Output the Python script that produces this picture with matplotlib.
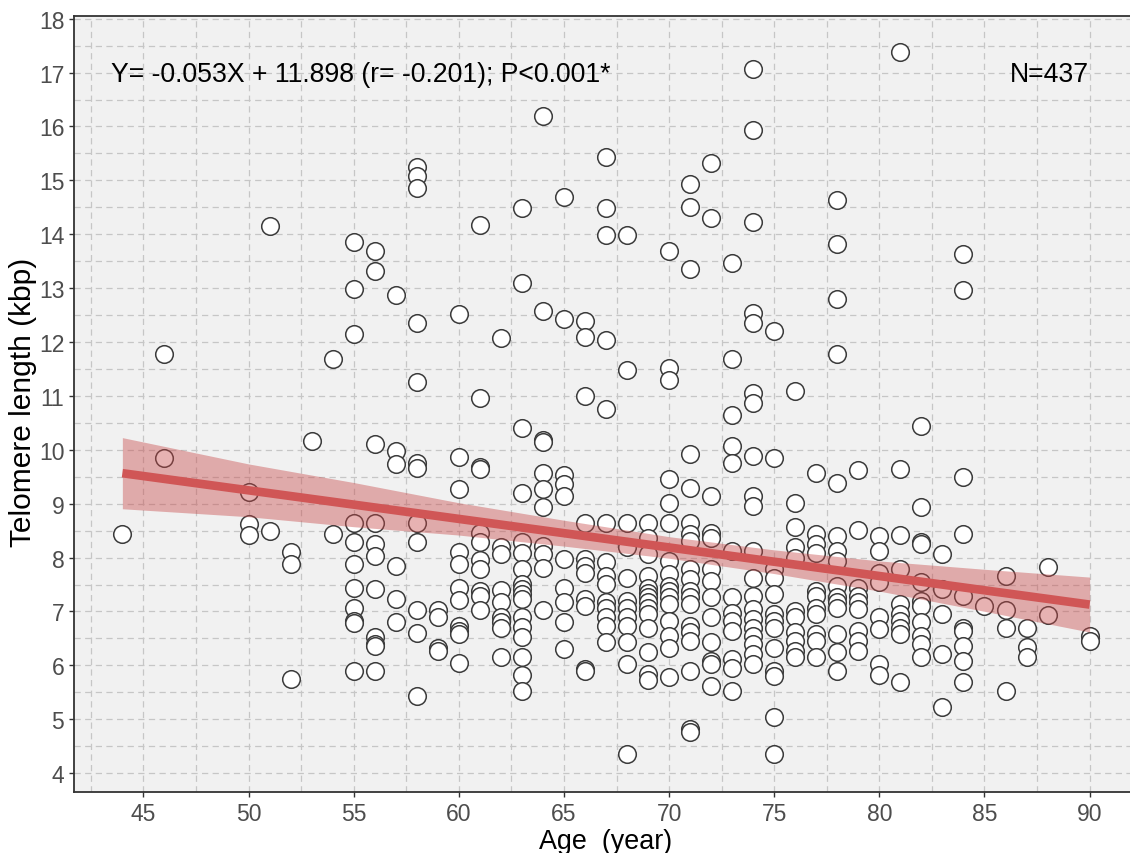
import numpy as np
import matplotlib
matplotlib.use("Agg")
import matplotlib.pyplot as plt
from matplotlib.ticker import MultipleLocator

plt.rcParams['font.family'] = ['Liberation Sans', 'DejaVu Sans']

# ---- data: telomere length (kbp) by age (year) ----
age44 = [8.43]
age46 = [11.77, 9.84]
age50 = [9.22, 8.62, 8.42]
age51 = [14.16, 8.50]
age52 = [8.10, 7.88, 5.75]
age53 = [10.16]
age54 = [11.68, 8.43]
age55 = [13.85, 12.99, 12.14, 8.65, 8.28, 7.89, 7.44, 7.07, 6.83, 6.78, 5.90]
age56 = [13.68, 13.31, 10.10, 8.65, 8.25, 8.03, 7.41, 6.53, 6.40, 6.36, 5.89]
age57 = [12.88, 9.98, 9.74, 7.85, 7.23, 6.81]
age58 = [15.25, 15.09, 14.86, 12.36, 11.25, 9.76, 9.67, 8.65, 8.28, 7.02, 6.60, 5.44]
age59 = [7.02, 6.90, 6.33, 6.27]
age60 = [12.52, 9.87, 9.28, 8.11, 7.89, 7.44, 7.22, 6.73, 6.64, 6.58, 6.04]
age61 = [14.18, 10.96, 9.69, 9.65, 8.46, 8.28, 7.95, 7.78, 7.38, 7.29, 7.02]
age62 = [12.08, 8.19, 8.06, 7.40, 7.17, 6.89, 6.80, 6.70, 6.16]
age63 = [14.49, 13.10, 10.41, 9.19, 8.28, 8.08, 7.78, 7.51, 7.41, 7.32, 7.23,
         6.89, 6.72, 6.52, 6.15, 5.83, 5.53]
age64 = [16.20, 12.57, 10.19, 10.15, 9.57, 9.28, 8.93, 8.22, 8.06, 7.81, 7.02]
age65 = [14.70, 12.42, 9.54, 9.36, 9.14, 7.98, 7.44, 7.17, 6.80, 6.30]
age66 = [12.39, 12.10, 10.99, 8.65, 7.97, 7.85, 7.72, 7.23, 7.11, 5.93, 5.90]
age67 = [15.44, 14.48, 13.98, 12.04, 10.75, 8.65, 7.91, 7.66, 7.51, 7.17, 7.07,
         6.89, 6.73, 6.44]
age68 = [13.98, 11.48, 8.65, 8.19, 7.63, 7.20, 7.07, 6.89, 6.73, 6.43, 6.02, 4.36]
age69 = [8.65, 8.37, 8.06, 7.66, 7.44, 7.35, 7.26, 7.17, 7.07, 6.95, 6.70, 6.24,
         5.84, 5.72]
age70 = [13.68, 11.51, 11.30, 9.45, 9.02, 8.65, 7.94, 7.69, 7.48, 7.38, 7.26,
         7.14, 6.83, 6.55, 6.33, 5.78]
age71 = [14.93, 14.51, 13.36, 9.93, 9.30, 8.65, 8.43, 8.31, 7.78, 7.60, 7.38,
         7.26, 7.14, 6.73, 6.61, 6.46, 5.90, 4.82, 4.76]
age72 = [15.32, 14.31, 9.14, 8.46, 8.37, 7.78, 7.57, 7.26, 6.89, 6.43, 6.09,
         6.02, 5.61]
age73 = [13.47, 11.68, 10.65, 10.07, 9.76, 8.12, 7.26, 6.98, 6.83, 6.64, 6.12,
         5.96, 5.53]
age74 = [17.07, 15.94, 14.23, 12.54, 12.35, 11.06, 10.87, 9.88, 9.14, 8.96,
         8.12, 7.63, 7.29, 7.04, 6.86, 6.70, 6.55, 6.40, 6.21, 6.02]
age75 = [12.20, 9.85, 7.78, 7.63, 7.32, 6.95, 6.83, 6.70, 6.33, 5.90, 5.81,
         5.04, 4.36]
age76 = [11.09, 9.02, 8.56, 8.19, 8.00, 7.01, 6.89, 6.61, 6.46, 6.27, 6.15]
age77 = [9.57, 8.43, 8.25, 8.09, 7.38, 7.29, 7.07, 6.95, 6.58, 6.46, 6.15]
age78 = [14.64, 13.82, 12.79, 11.77, 9.39, 8.40, 8.12, 7.94, 7.48, 7.26, 7.17,
         7.07, 6.58, 6.24, 5.90]
age79 = [9.62, 8.52, 7.44, 7.29, 7.17, 7.04, 6.64, 6.46, 6.27]
age80 = [8.40, 8.12, 7.72, 7.54, 6.89, 6.67, 6.02, 5.83]
age81 = [17.39, 9.65, 8.42, 7.78, 7.14, 6.95, 6.83, 6.70, 6.58, 5.69]
age82 = [10.45, 8.94, 8.28, 8.25, 7.54, 7.20, 7.11, 6.80, 6.55, 6.40, 6.15]
age83 = [8.06, 7.41, 6.95, 6.21, 5.23]
age84 = [13.64, 12.96, 9.49, 8.44, 7.29, 6.70, 6.64, 6.36, 6.09, 5.69]
age85 = [7.11]
age86 = [7.66, 7.02, 6.70, 5.52]
age87 = [6.69, 6.35, 6.15]
age88 = [7.83, 6.93]
age90 = [6.55, 6.46]

# regression reported in the figure
slope = -0.053
intercept = 11.898
# confidence band half-widths
band_age = [44, 50, 55, 60, 65, 70, 75, 80, 85, 90]
band_half = [0.66, 0.49, 0.41, 0.30, 0.24, 0.20, 0.22, 0.28, 0.39, 0.51]

x_ticks = [45, 50, 55, 60, 65, 70, 75, 80, 85, 90]
y_ticks = list(range(4, 19))
equation_text = "Y= -0.053X + 11.898 (r= -0.201); P<0.001*"
n_text = "N=437"

groups = {44: age44, 46: age46, 50: age50, 51: age51, 52: age52, 53: age53,
          54: age54, 55: age55, 56: age56, 57: age57, 58: age58, 59: age59,
          60: age60, 61: age61, 62: age62, 63: age63, 64: age64, 65: age65,
          66: age66, 67: age67, 68: age68, 69: age69, 70: age70, 71: age71,
          72: age72, 73: age73, 74: age74, 75: age75, 76: age76, 77: age77,
          78: age78, 79: age79, 80: age80, 81: age81, 82: age82, 83: age83,
          84: age84, 85: age85, 86: age86, 87: age87, 88: age88, 90: age90}
xs = np.concatenate([[a] * len(v) for a, v in groups.items()]).astype(float)
ys = np.concatenate([v for v in groups.values()])

# ---- figure ----
W, H = 1130, 854
fig = plt.figure(figsize=(W / 100, H / 100), dpi=100)
ax = fig.add_axes([74 / W, (H - 793) / H, (1138 - 74) / W, (793 - 17) / H])
ax.set_facecolor('#F1F1F1')

ax.set_xlim(41.7, 92.3)
ax.set_ylim(3.65, 18.05)
ax.set_xticks(x_ticks)
ax.set_yticks(y_ticks)
ax.xaxis.set_minor_locator(MultipleLocator(2.5))
ax.yaxis.set_minor_locator(MultipleLocator(0.5))
ax.grid(which='both', linestyle=(0, (5, 3.5)), color='#C6C6C6', linewidth=0.9)
ax.set_axisbelow(True)

ax.tick_params(which='major', length=3.5, width=1.0, color='#333333',
               labelsize=16.5, labelcolor='#4D4D4D', pad=3.5)
ax.tick_params(which='minor', length=0)

for side in ['left', 'bottom', 'top']:
    ax.spines[side].set_color('#333333')
    ax.spines[side].set_linewidth(1.3)
ax.spines['right'].set_visible(False)

# points
ax.scatter(xs, ys, s=160, facecolor='white', edgecolor='#3A3A3A',
           linewidth=1.1, zorder=2)

# confidence band and regression line
band_age_arr = np.array(band_age, dtype=float)
band_center = slope * band_age_arr + intercept
band_half_arr = np.array(band_half)
ax.fill_between(band_age_arr, band_center - band_half_arr, band_center + band_half_arr,
                color='#C84848', alpha=0.42, linewidth=0, zorder=3)
lx = np.array([xs.min(), xs.max()])
ax.plot(lx, slope * lx + intercept, color='#D05656', linewidth=6.2,
        solid_capstyle='butt', zorder=4)

# annotations
ax.text(43.45, 16.98, equation_text, fontsize=19.2, color='black',
        ha='left', va='center', zorder=5)
ax.text(86.2, 16.98, n_text, fontsize=19.2, color='black',
        ha='left', va='center', zorder=5)

fig.text(606 / W, 1 - 849 / H, 'Age  (year)', fontsize=19.4, color='black',
         ha='center', va='baseline')
fig.text(23 / W, 1 - 402 / H, 'Telomere length (kbp)', fontsize=21.5,
         color='black', ha='center', va='center', rotation=90)

fig.savefig('out.png', dpi=100)
